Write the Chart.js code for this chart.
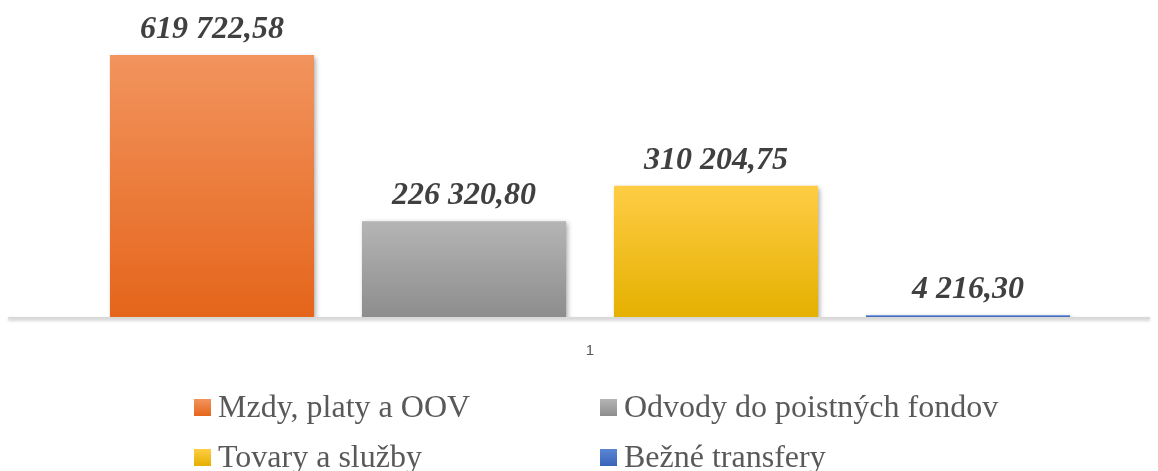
<!DOCTYPE html>
<html>
<head>
<meta charset="utf-8">
<script src="https://cdn.jsdelivr.net/npm/chart.js@4"></script>
<style>
  html, body { margin: 0; padding: 0; background: #fff; }
  #wrap { position: relative; width: 1158px; height: 471px; }
  #c { position: absolute; left: 0; top: 0; }
  .lg { position: absolute; font-family: "Liberation Serif", "DejaVu Serif", serif; font-size: 32px; color: #595959; white-space: nowrap; line-height: 1; }
  .lg .box { position: absolute; width: 17px; height: 17px; }
  .lg .txt { position: absolute; }
</style>
</head>
<body>
<div id="wrap">
  <canvas id="c" width="1158" height="471"></canvas>
  <div id="legend"></div>
</div>
<script>
const categories = ["1"];
const seriesNames = ["Mzdy, platy a OOV", "Odvody do poistných fondov", "Tovary a služby", "Bežné transfery"];
const mzdy = [619722.58];
const odvody = [226320.80];
const tovary = [310204.75];
const transfery = [4216.30];
const gradTop = ["#f2945e", "#b5b5b5", "#ffcd45", "#5a86d4"];
const gradBottom = ["#e5651b", "#8d8d8d", "#e4b000", "#3a64b8"];

function fmt(v) {
  const parts = v.toFixed(2).split(".");
  return parts[0].replace(/\B(?=(\d{3})+(?!\d))/g, " ") + "," + parts[1];
}

function barGradient(i) {
  return function(ctx) {
    const chart = ctx.chart;
    const y = chart.scales && chart.scales.y;
    if (!y || ctx.raw === undefined) return gradBottom[i];
    const top = y.getPixelForValue(ctx.raw);
    const bot = y.getPixelForValue(0);
    if (!isFinite(top) || !isFinite(bot) || bot - top < 1) return gradBottom[i];
    const g = chart.ctx.createLinearGradient(0, top, 0, bot);
    g.addColorStop(0, gradTop[i]);
    g.addColorStop(1, gradBottom[i]);
    return g;
  };
}

const seriesData = [mzdy, odvody, tovary, transfery];

const shadowPlugin = {
  id: "shadow",
  beforeDatasetsDraw(chart) {
    const ctx = chart.ctx;
    const y0 = chart.scales.y.getPixelForValue(0);
    ctx.save();
    ctx.shadowColor = "rgba(0,0,0,0.25)";
    ctx.shadowBlur = 3;
    ctx.shadowOffsetY = 1.5;
    ctx.strokeStyle = "#d9d9d9";
    ctx.lineWidth = 2;
    ctx.beginPath();
    ctx.moveTo(8, y0 + 1);
    ctx.lineTo(chart.chartArea.right, y0 + 1);
    ctx.stroke();
    ctx.restore();
    ctx.save();
    ctx.shadowColor = "rgba(0,0,0,0.35)";
    ctx.shadowBlur = 5;
    ctx.shadowOffsetX = 2;
    ctx.shadowOffsetY = 2;
  },
  afterDatasetsDraw(chart) {
    chart.ctx.restore();
    const ctx = chart.ctx;
    ctx.save();
    ctx.font = "italic bold 32px 'Liberation Serif', 'DejaVu Serif', serif";
    ctx.fillStyle = "#404040";
    ctx.textAlign = "center";
    ctx.textBaseline = "alphabetic";
    chart.data.datasets.forEach((ds, i) => {
      const meta = chart.getDatasetMeta(i);
      meta.data.forEach((bar, j) => {
        ctx.fillText(fmt(ds.data[j]), bar.x, bar.y - 17);
      });
    });
    ctx.restore();
  }
};

const chart = new Chart(document.getElementById("c"), {
  type: "bar",
  data: {
    labels: categories,
    datasets: seriesNames.map((name, i) => ({
      label: name,
      data: seriesData[i],
      backgroundColor: barGradient(i),
      borderWidth: 0,
      categoryPercentage: 0.9,
      barPercentage: 0.81
    }))
  },
  options: {
    responsive: false,
    animation: false,
    devicePixelRatio: 1,
    layout: { padding: { top: 10, left: 30, right: 8, bottom: 86 } },
    plugins: { legend: { display: false }, tooltip: { enabled: false } },
    scales: {
      x: {
        grid: { display: false, drawTicks: false },
        border: { display: false },
        ticks: { padding: 25, color: "#595959", font: { family: "'Liberation Sans', Arial, sans-serif", size: 15 } }
      },
      y: {
        display: false,
        min: 0,
        max: 726000
      }
    }
  },
  plugins: [shadowPlugin]
});

// HTML legend
const legendPos = [
  { x: 194, y: 407 }, { x: 600, y: 407 },
  { x: 194, y: 457 }, { x: 600, y: 457 }
];
const legendEl = document.getElementById("legend");
seriesNames.forEach((name, i) => {
  const p = legendPos[i];
  const item = document.createElement("div");
  item.className = "lg";
  item.style.left = p.x + "px";
  item.style.top = (p.y - 17) + "px";
  const box = document.createElement("div");
  box.className = "box";
  box.style.left = "0px";
  box.style.top = "9px";
  box.style.background = "linear-gradient(" + gradTop[i] + "," + gradBottom[i] + ")";
  const txt = document.createElement("div");
  txt.className = "txt";
  txt.style.left = "24px";
  txt.style.top = "0px";
  txt.textContent = name;
  item.appendChild(box);
  item.appendChild(txt);
  legendEl.appendChild(item);
});
</script>
</body>
</html>
